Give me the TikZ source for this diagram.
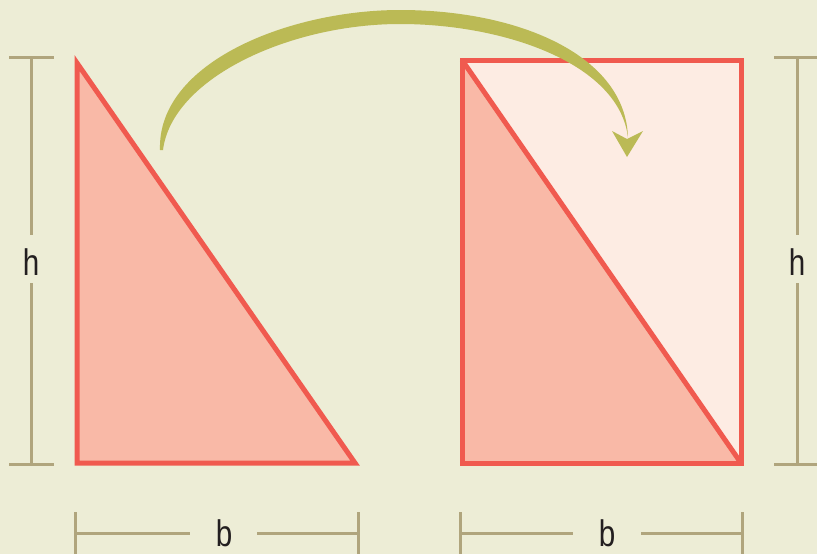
\documentclass[tikz,border=0pt]{standalone}
\usepackage{fontspec}
\newfontfamily\labfont[FakeStretch=0.8]{Liberation Sans}
\definecolor{bg}{HTML}{EDEDD6}
\definecolor{redline}{HTML}{F05A4F}
\definecolor{darkfill}{HTML}{F9B9A7}
\definecolor{lightfill}{HTML}{FDECE3}
\definecolor{dimc}{HTML}{B0A57D}
\definecolor{arrowc}{HTML}{BBBA55}
\definecolor{txt}{HTML}{231F20}
\tikzset{
  shapeline/.style={draw=redline, line width=5pt, line join=miter},
  dimline/.style={draw=dimc, line width=3pt},
  dimlabel/.style={font=\labfont\fontsize{37}{40}\selectfont, text=txt, inner sep=0pt},
}
\begin{document}
\begin{tikzpicture}[x=1pt,y=-1pt]
\fill[bg] (0,0) rectangle (817,554);
\useasboundingbox (0,0) rectangle (817,554);
% left triangle
\coordinate (ta) at (77,63);
\coordinate (tb) at (77,463);
\coordinate (tc) at (355,463);
\filldraw[shapeline, fill=darkfill] (ta) -- (tb) -- (tc) -- cycle;
% rectangle
\coordinate (ra) at (462,60);
\coordinate (rb) at (741,60);
\coordinate (rc) at (741,463);
\coordinate (rd) at (462,463);
\fill[lightfill] (ra) rectangle (rc);
\fill[darkfill] (ra) -- (rc) -- (rd) -- cycle;
\draw[shapeline] (ra) -- (rc);
\draw[shapeline] (ra) -- (rb) -- (rc) -- (rd) -- cycle;
% curved arrow
\fill[arrowc] (160,150) .. controls (157,62) and (290,10) .. (400,10)
  .. controls (520,10) and (626,56) .. (628,138)
  .. controls (620,64) and (505,24) .. (400,24)
  .. controls (290,24) and (172,78) .. (163,150) -- cycle;
\fill[arrowc] (612,131) -- (627,139) -- (643,131) -- (627,157) -- cycle;
% left h dimension
\node[dimlabel] (hl) at (31,262) {h};
\coordinate (hlt) at (31,57);
\coordinate (hlb) at (31,464);
\draw[dimline] (hlt) -- (31,235);
\draw[dimline] (31,283) -- (hlb);
\draw[dimline] (9,57) -- (54,57);
\draw[dimline] (9,464) -- (54,464);
% right h dimension
\node[dimlabel] (hr) at (797,262) {h};
\coordinate (hrt) at (797,57);
\coordinate (hrb) at (797,464);
\draw[dimline] (hrt) -- (797,235);
\draw[dimline] (797,283) -- (hrb);
\draw[dimline] (774,57) -- (820,57);
\draw[dimline] (774,464) -- (820,464);
% bottom left b
\node[dimlabel] (bl) at (224,533) {b};
\draw[dimline] (75,533) -- (190,533);
\draw[dimline] (257,533) -- (358,533);
\draw[dimline] (75,512) -- (75,556);
\draw[dimline] (358,512) -- (358,556);
% bottom right b
\node[dimlabel] (br) at (607,533) {b};
\draw[dimline] (460,533) -- (573,533);
\draw[dimline] (641,533) -- (742,533);
\draw[dimline] (460,512) -- (460,556);
\draw[dimline] (742,512) -- (742,556);
\end{tikzpicture}
\end{document}
